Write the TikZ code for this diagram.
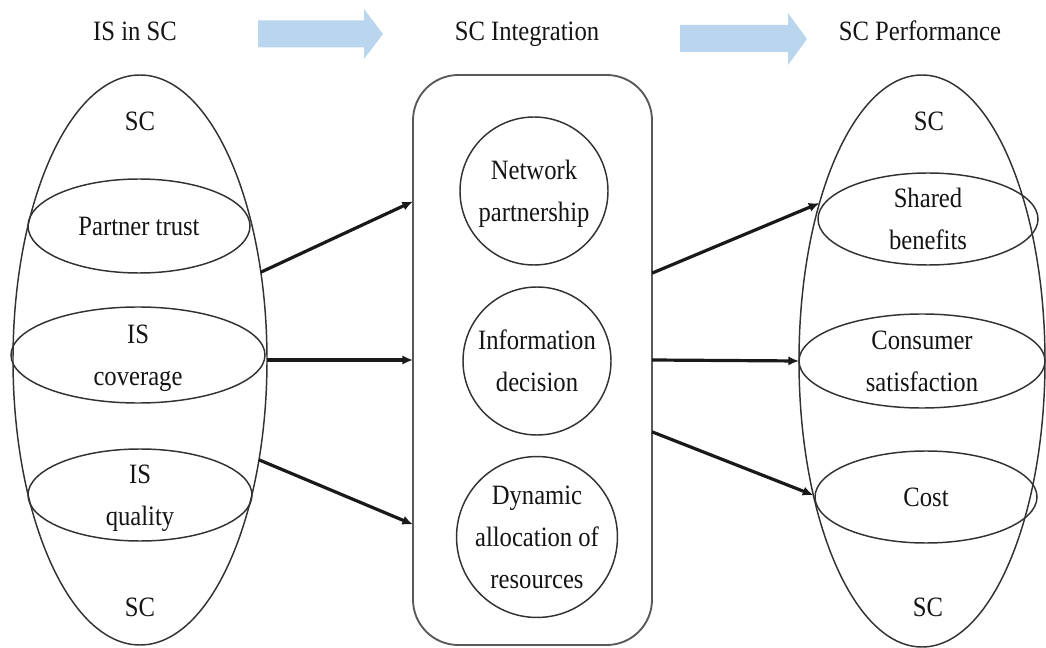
\documentclass[tikz,border=0pt]{standalone}
\usepackage{fontspec}
\setmainfont{Liberation Serif}[FakeStretch=0.88]
\usetikzlibrary{arrows.meta,shapes.geometric}
\definecolor{flowblue}{RGB}{186,213,238}
\definecolor{inkline}{RGB}{50,50,50}
% last line of a label: keep its descenders out of the box height
\newcommand\lastline[1]{\raisebox{0pt}[\height][0pt]{#1}}
\begin{document}
\begin{tikzpicture}[x=0.75pt,y=-0.75pt,
  every node/.style={font=\fontsize{21}{31.5}\selectfont, text=black!92, align=center},
  outline/.style={draw=inkline, line width=1.1pt, inner sep=0pt, outer sep=0pt},
  oval/.style={outline, ellipse},
  bubble/.style={outline, circle, minimum size=111pt},
  panel/.style={outline, draw=black!65, line width=1.4pt, rectangle, rounded corners=34pt,
                minimum width=179.25pt, minimum height=427.5pt},
  link/.style={line width=2.4pt, black!90, -{Latex[length=8pt,width=7pt]}},
  flow/.style={fill=flowblue, draw=none},
  caption/.style={inner sep=0pt},
  title/.style={caption, anchor=base}
]
\useasboundingbox (0,0) rectangle (1046,648);

% column titles
\node[title] (t1) at (135,41) {IS in SC};
\node[title] (t2) at (527,41) {SC Integration};
\node[title] (t3) at (920,41) {SC Performance};

% broad flow arrows between the titles
\fill[flow] (258,20.5) -- (364,20.5) -- (364,9) -- (383,34) -- (364,59)
            -- (364,47.5) -- (258,47.5) -- cycle;
\fill[flow] (680,25) -- (788,25) -- (788,13) -- (807,39) -- (788,65)
            -- (788,52) -- (680,52) -- cycle;

% left column: IS in SC
\node[oval, minimum width=190.5pt, minimum height=427.5pt] (L) at (140,360) {};
\node[caption] (Ltop) at (140,121) {SC};
\node[oval, minimum width=166.5pt, minimum height=70.5pt] (PT) at (139,226) {Partner trust};
\node[oval, minimum width=190.5pt, minimum height=72pt] (ISC) at (138,355) {IS\\\lastline{coverage}};
\node[oval, minimum width=168pt, minimum height=69pt] (ISQ) at (140,495) {IS\\\lastline{quality}};
\node[caption] (Lbot) at (140,607) {SC};

% middle column: SC integration
\node[panel] (M) at (532.5,360) {};
\node[bubble] (N1) at (534,191) {Network\\\lastline{partnership}};
\node[bubble] (N2) at (537,361) {Information\\decision};
\node[bubble] (N3) at (537,537) {Dynamic\\allocation of\\resources};

% right column: SC performance
\node[oval, minimum width=184.5pt, minimum height=429pt] (R) at (922,361) {};
\node[caption] (Rtop) at (929,121) {SC};
\node[oval, minimum width=165pt, minimum height=69pt] (SB) at (928,219) {Shared\\benefits};
\node[oval, minimum width=184.5pt, minimum height=70.5pt] (CS) at (922,361) {Consumer\\satisfaction};
\node[oval, minimum width=166.5pt, minimum height=69pt] (CO) at (926,497) {Cost};
\node[caption] (Rbot) at (928,607) {SC};

% connectors
\draw[link] (L.36) -- (M.127.6);
\draw[link] (L.east) -- (M.west);
\draw[link] (L.-40.6) -- (M.234.9);
\draw[link] (M.36.1) -- (R.123.2);
\draw[link] (M.east) -- (R.west);
\draw[link] (M.-31.9) -- (R.231.3);
\end{tikzpicture}
\end{document}
